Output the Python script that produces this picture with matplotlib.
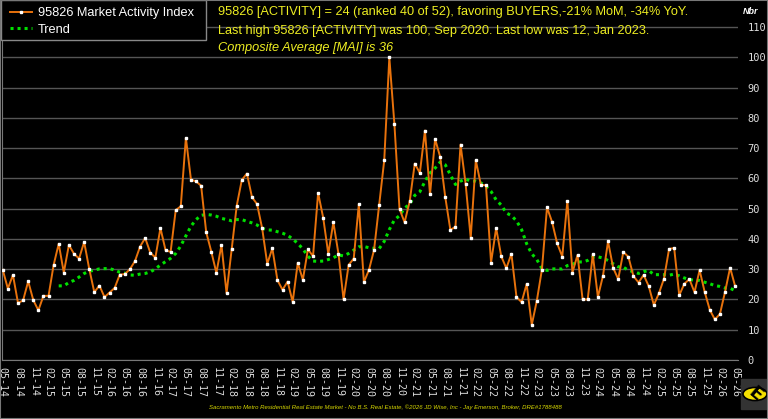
import matplotlib
matplotlib.use("Agg")
import matplotlib.pyplot as plt
from matplotlib.patches import Rectangle, Circle
import numpy as np
import pandas as pd

# monthly Market Activity Index, May 2014 .. May 2026
activity = [29.8, 23.6, 28.1, 18.8, 19.7, 26.0, 19.8, 16.4, 21.2, 21.2, 31.4, 38.4,
            28.9, 38.0, 35.1, 33.5, 39.0, 30.1, 22.4, 24.6, 20.8, 22.3, 23.8, 28.2,
            28.4, 30.0, 32.7, 37.5, 40.3, 35.5, 33.8, 43.6, 36.3, 35.7, 49.5, 50.8,
            73.4, 59.6, 59.0, 57.6, 42.2, 35.8, 28.8, 38.0, 22.1, 36.7, 51.0, 59.5,
            61.6, 53.8, 51.5, 43.5, 31.8, 36.9, 26.4, 23.2, 25.9, 19.2, 32.1, 26.5,
            36.6, 34.3, 55.2, 47.0, 35.1, 45.5, 35.1, 20.0, 31.4, 33.5, 51.4, 25.7,
            29.8, 36.4, 51.2, 66.0, 100.0, 77.9, 49.9, 45.5, 52.4, 64.9, 61.8, 75.8,
            54.7, 73.0, 67.1, 53.8, 43.0, 44.0, 71.2, 58.2, 40.3, 66.0, 57.9, 57.7,
            32.2, 43.6, 34.3, 30.3, 35.1, 20.8, 19.1, 25.1, 11.6, 19.6, 29.9, 50.4,
            45.6, 38.5, 34.2, 52.5, 28.9, 34.7, 20.0, 20.0, 34.9, 20.8, 27.8, 39.2,
            30.5, 26.7, 35.7, 34.1, 27.7, 25.6, 28.1, 24.4, 18.2, 22.0, 26.9, 36.7,
            37.0, 21.4, 25.2, 26.7, 22.4, 29.7, 22.5, 16.6, 13.4, 15.2, 22.5, 30.5,
            24.3]

# trend line, starts at Apr 2015 (12th month)
trend_start = 11
trend = [24.5, 24.5, 25.6, 26.3, 27.4, 28.6, 29.3, 29.7, 30.1, 30.2, 30.2, 29.7,
         29.0, 28.7, 28.1, 28.0, 28.4, 28.6, 29.1, 30.1, 31.4, 32.5, 33.6, 35.2,
         37.7, 41.0, 44.2, 46.4, 47.8, 48.1, 47.9, 47.5, 46.8, 46.4, 46.0, 46.4,
         46.4, 45.8, 45.3, 44.6, 43.5, 43.0, 42.9, 42.4, 41.9, 41.2, 40.0, 38.5,
         36.7, 34.3, 32.7, 32.6, 32.7, 33.2, 33.8, 34.7, 34.4, 35.2, 36.3, 37.4,
         37.5, 37.1, 36.9, 36.8, 39.2, 43.1, 46.3, 47.7, 50.2, 51.5, 54.4, 55.6,
         59.0, 61.8, 63.4, 65.4, 64.5, 61.2, 58.0, 59.1, 59.8, 59.1, 59.1, 58.5,
         57.4, 55.7, 52.9, 51.2, 48.6, 47.7, 46.0, 43.1, 38.4, 35.1, 33.2, 30.2,
         29.6, 30.1, 30.1, 30.1, 31.2, 31.6, 32.4, 32.4, 32.9, 34.0, 34.1, 33.7,
         32.9, 31.8, 30.8, 30.7, 29.6, 29.2, 28.6, 29.2, 29.6, 28.2, 28.2, 28.2,
         28.0, 28.4, 27.8, 27.1, 26.6, 26.3, 26.3, 25.7, 25.2, 24.6, 24.3, 23.8,
         23.7, 22.9]

months = pd.date_range("2014-05-01", periods=len(activity), freq="MS")
tick_labels = [m.strftime("%m-%y") for m in months[::3]]

W, H = 768, 419
fig = plt.figure(figsize=(W / 100, H / 100), dpi=100, facecolor="black")
ax = fig.add_axes([2 / W, (H - 360) / H, 736 / W, 345 / H], facecolor="black")

x = np.arange(len(activity))
xt = np.arange(trend_start, trend_start + len(trend))

ax.plot(x, activity, color="#E8720C", lw=1.4, marker="s", ms=1.8,
        mfc="white", mec="white", zorder=3, label="95826 Market Activity Index")
ax.plot(xt, trend, color="#00E000", lw=2.2, ls=(0, (1, 1.3)), zorder=2, label="Trend")

ax.set_xlim(-0.15, 144.55)
ax.set_ylim(0, 114)
ax.set_yticks(np.arange(0, 111, 10))
ax.yaxis.tick_right()
ax.grid(axis="y", color="#555555", lw=1)
ax.set_axisbelow(True)
ax.set_xticks(x[::3])
ax.set_xticklabels(tick_labels, rotation=270, family="DejaVu Sans Mono",
                   fontsize=7.2, color="#dddddd")
ax.tick_params(axis="x", length=0, pad=5)
ax.tick_params(axis="y", length=0, pad=7, labelsize=7.5, labelcolor="#dddddd")
for lab in ax.get_yticklabels():
    lab.set_family("DejaVu Sans Mono")
for s in ["top", "right"]:
    ax.spines[s].set_visible(False)
ax.spines["left"].set_color("#777777")
ax.spines["bottom"].set_color("#777777")

# legend box drawn by hand, legend itself without frame
fig.patches.append(Rectangle((0.5 / W, 1 - 40 / H), 205 / W, 39.5 / H,
                             transform=fig.transFigure, facecolor="black",
                             edgecolor="#888888", lw=1, zorder=4))
leg = fig.legend(loc="upper left", bbox_to_anchor=(6 / W, 1 - 3 / H), borderaxespad=0,
                 prop={"family": "Liberation Sans", "size": 9.2}, labelcolor="white",
                 frameon=False, handlelength=1.7, handletextpad=0.45,
                 borderpad=0.35, labelspacing=0.35)
leg.set_zorder(6)

yel = "#EEEE22"
fig.text(218 / W, 1 - 12 / H,
         "95826 [ACTIVITY] = 24 (ranked 40 of 52), favoring BUYERS,-21% MoM, -34% YoY.",
         color=yel, fontsize=9.2, family="Liberation Sans", va="center")
fig.text(218 / W, 1 - 31 / H,
         "Last high 95826 [ACTIVITY] was 100, Sep 2020. Last low was 12, Jan 2023.",
         color=yel, fontsize=9.2, family="Liberation Sans", va="center")
fig.text(218 / W, 1 - 48 / H, "Composite Average [MAI] is 36",
         color=yel, fontsize=9.2, family="Liberation Sans", style="italic", va="center")

fig.text(751 / W, 1 - 11 / H, "Nbr", color="white", fontsize=6.5, weight="bold",
         style="italic", family="Liberation Sans", ha="center", va="center")

fig.text(385 / W, 1 - 407 / H,
         "Sacramento Metro Residential Real Estate Market - No B.S. Real Estate, "
         "\u00a92026 JD Wise, Inc - Jay Emerson, Broker, DRE#1788488",
         color="#D8D800", fontsize=4.3, style="italic", family="Liberation Sans",
         ha="center", va="center")

# logo
fig.patches.append(Rectangle((741 / W, 1 - 409 / H), 27 / W, 30 / H,
                             transform=fig.transFigure, color="#333333", zorder=5))
fig.patches.append(Circle((755 / W, 1 - 394 / H), 12 / W, transform=fig.transFigure,
                          facecolor="#F5E000", edgecolor="black", lw=1.2, zorder=6))
fig.text(755 / W, 1 - 394 / H, "E", color="black", fontsize=13, weight="bold",
         rotation=-40, ha="center", va="center", zorder=7)

fig.patches.append(Rectangle((0, 0), 1, 1, transform=fig.transFigure, fill=False,
                             edgecolor="#777777", lw=1.5, zorder=10))

fig.savefig("out.png", dpi=100, facecolor="black")
